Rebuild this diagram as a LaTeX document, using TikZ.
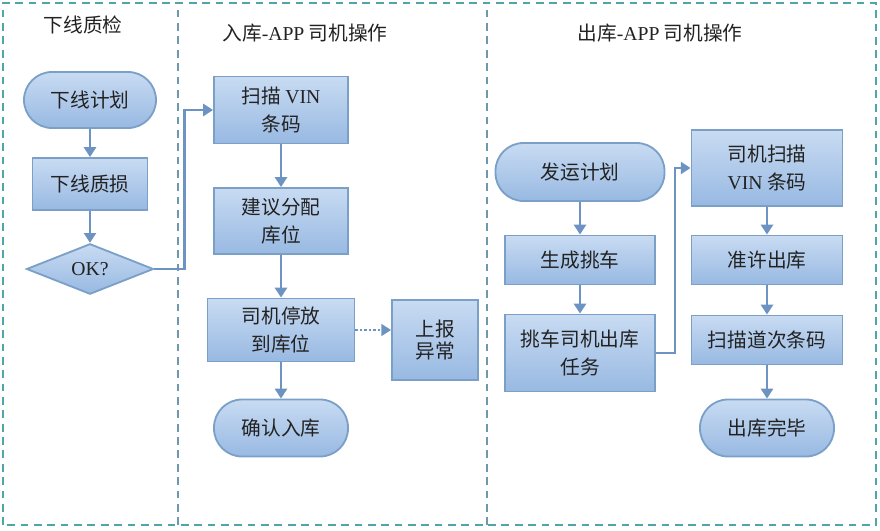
\documentclass[tikz,border=0pt]{standalone}
\usepackage{fontspec}
\setmainfont{Noto Sans CJK SC}
\newfontfamily\latinfont{Liberation Serif}
\usetikzlibrary{shapes.geometric,arrows.meta}
\definecolor{boxtop}{RGB}{200,219,242}
\definecolor{boxbot}{RGB}{152,185,226}
\definecolor{boxline}{RGB}{122,160,200}
\definecolor{flowline}{RGB}{109,147,194}
\definecolor{laneframe}{RGB}{78,166,168}
\definecolor{lanesep}{RGB}{112,152,172}
\definecolor{txt}{RGB}{34,34,34}

\begin{document}
\begin{tikzpicture}[every node/.style={font=\fontsize{14}{20}\selectfont, text=txt},
    box/.style={rectangle,draw=boxline,line width=1.3pt,top color=boxtop,bottom color=boxbot,align=center,inner sep=1pt},
    term/.style={box,rounded corners=0.7cm},
    decision/.style={diamond,draw=boxline,line width=1.3pt,top color=boxtop,bottom color=boxbot,inner sep=0pt,minimum width=3.175cm,minimum height=1.2cm},
    flow/.style={draw=flowline,line width=2pt,-{Triangle[length=7pt,width=8.5pt]}}]
    \useasboundingbox (0,0) rectangle (22,13.25);

    % Lanes
    \draw[laneframe,line width=1.3pt,dash pattern=on 5.5pt off 4pt] (0.075,0.125) rectangle (21.9,13.175);
    \draw[lanesep,line width=1pt,dash pattern=on 5.5pt off 4pt] (4.45,0.125) -- (4.45,13.175);
    \draw[lanesep,line width=1pt,dash pattern=on 5.5pt off 4pt] (12.175,0.125) -- (12.175,13.175);
    \node (t1) at (2.075,12.625) {下线质检};
    \node (t2) at (7.625,12.425) {入库{\latinfont -APP} 司机操作};
    \node (t3) at (16.5,12.425) {出库{\latinfont -APP} 司机操作};

    % Offline inspection
    \node[term,minimum width=3.3cm,minimum height=1.4cm] (plan) at (2.25,10.75) {下线计划};
    \node[box,minimum width=2.875cm,minimum height=1.3cm] (damage) at (2.25,8.65) {下线质损};
    \node[decision] (ok) at (2.25,6.525) {\latinfont OK?};

    % Inbound
    \node[box,minimum width=3.35cm,minimum height=1.675cm] (scanvin) at (7.025,10.5) {扫描 {\latinfont VIN}\\条码};
    \node[box,minimum width=3.35cm,minimum height=1.65cm] (assign) at (7.025,7.725) {建议分配\\库位};
    \node[box,minimum width=3.675cm,minimum height=1.575cm] (park) at (7.025,5.0) {司机停放\\到库位};
    \node[box,minimum width=2.15cm,minimum height=2cm] (report) at (10.875,4.75) {上报\\[-4pt]异常};
    \node[term,minimum width=3.35cm,minimum height=1.425cm] (confirm) at (7.025,2.55) {确认入库};

    % Outbound
    \node[term,minimum width=4.225cm,minimum height=1.45cm] (ship) at (14.5,8.95) {发运计划};
    \node[box,minimum width=3.75cm,minimum height=1.225cm] (pick) at (14.5,6.75) {生成挑车};
    \node[box,minimum width=3.75cm,minimum height=1.925cm] (picktask) at (14.5,4.425) {挑车司机出库\\任务};
    \node[box,minimum width=3.775cm,minimum height=1.9cm] (scandrv) at (19.175,9.05) {司机扫描\\{\latinfont VIN} 条码};
    \node[box,minimum width=3.775cm,minimum height=1.225cm] (permit) at (19.175,6.75) {准许出库};
    \node[box,minimum width=3.775cm,minimum height=1.225cm] (scanlane) at (19.175,4.75) {扫描道次条码};
    \node[term,minimum width=3.35cm,minimum height=1.425cm] (done) at (19.175,2.55) {出库完毕};

    % Flow
    \draw[flow] (plan) -- (damage);
    \draw[flow] (damage) -- (ok);
    \draw[flow] (ok.east) -- ++(0.75,0) |- (scanvin.west);
    \draw[flow] (scanvin) -- (assign);
    \draw[flow] (assign) -- (park);
    \draw[flow] (park) -- (confirm);
    \draw[flow,line width=1.6pt,dash pattern=on 1.6pt off 1.6pt] (park.east) -- (park.east -| report.west);
    \draw[flow] (ship) -- (pick);
    \draw[flow] (pick) -- (picktask);
    \draw[flow] (picktask.east) -- ++(0.475,0) |- (scandrv.west);
    \draw[flow] (scandrv) -- (permit);
    \draw[flow] (permit) -- (scanlane);
    \draw[flow] (scanlane) -- (done);
\end{tikzpicture}
\end{document}
